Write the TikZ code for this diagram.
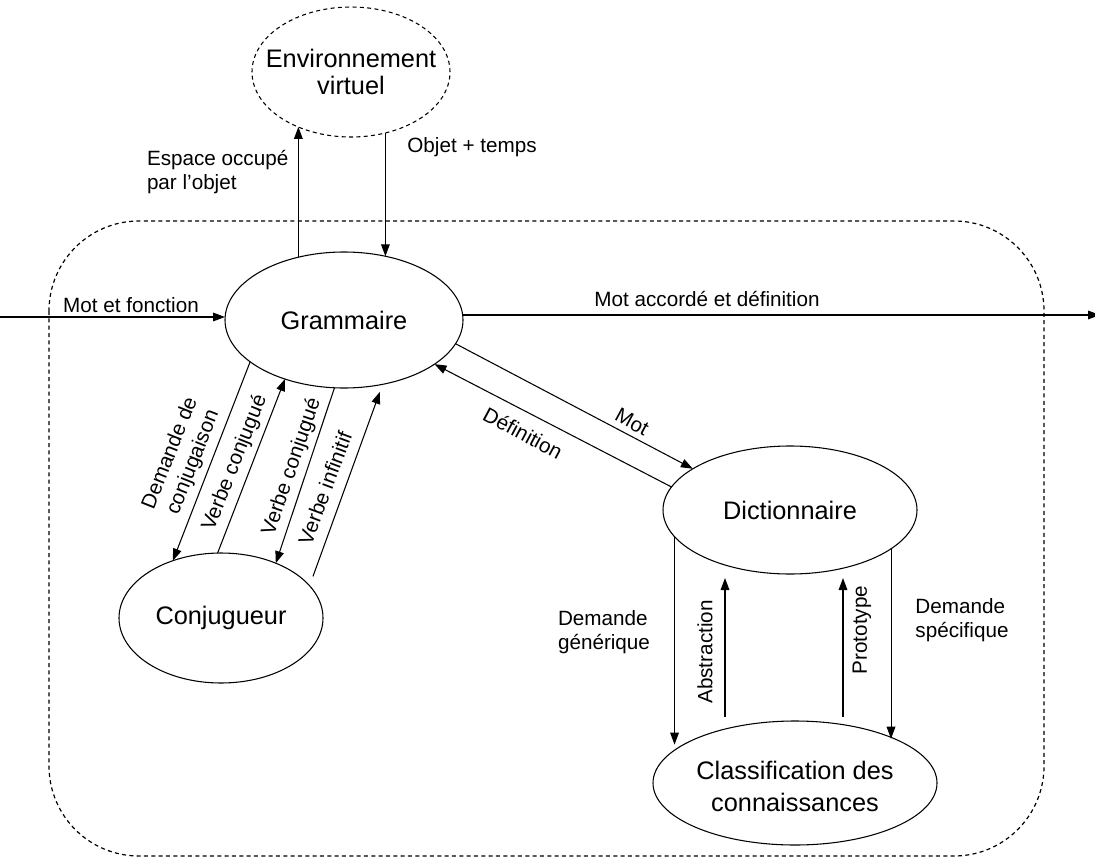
\documentclass[tikz,border=0pt]{standalone}
\usepackage{fontspec}
\setmainfont{Liberation Sans}
\usetikzlibrary{arrows.meta,shapes.geometric,calc}
\begin{document}
\begin{tikzpicture}[x=0.75pt,y=-0.75pt,
  every node/.style={inner sep=0pt, outer sep=0pt},
  blob/.style={ellipse, draw, line width=0.8pt},
  dashblob/.style={blob, dash pattern=on 3pt off 2.5pt},
  maintext/.style={font=\fontsize{19}{23}\selectfont, align=center},
  lbl/.style={font=\fontsize{15.5}{18.5}\selectfont, align=left},
  arr/.style={-{Triangle[length=9pt,width=6.5pt]}, line width=0.8pt},
  frame/.style={dash pattern=on 3pt off 2.5pt, line width=0.9pt}]
\useasboundingbox (0,0) rectangle (1095,860);

% dashed frame
\draw[frame, rounded corners=67.5pt] (49,221) rectangle (1044,856);

% nodes (shapes)
\node[dashblob, minimum width=148.5pt, minimum height=97.5pt] (env) at (351,72) {};
\node[blob, minimum width=178.5pt, minimum height=102pt] (gram) at (344,320) {};
\node[blob, minimum width=153pt, minimum height=97.5pt] (conj) at (221,618) {};
\node[blob, minimum width=190.5pt, minimum height=96pt] (dict) at (790,510) {};
\node[blob, minimum width=213pt, minimum height=93pt] (class) at (795,783) {};

% node texts
\node[maintext, font=\fontsize{19}{20.5}\selectfont] (envT) at (env) {Environnement\\virtuel};
\node[maintext] (gramT) at (gram) {Grammaire};
\node[maintext] (conjT) at (conj) {Conjugueur};
\node[maintext] (dictT) at (dict) {Dictionnaire};
\node[maintext, font=\fontsize{19}{24}\selectfont] (classT) at ($(class)+(0,3)$) {Classification des\\connaissances};

% free ends
\coordinate (inL) at (0,317);
\coordinate (outR) at (1100,315);
\coordinate (abB) at (725,717);
\coordinate (abT) at (725,578);
\coordinate (prB) at (843,717);
\coordinate (prT) at (843,578);

% connectors
\draw[arr] (inL) -- (inL -| gram.west);
\draw[arr] (outR -| gram.east) -- (outR);
\draw[arr] (gram.126.1) -- (gram.126.1 |- env.226);
\draw[arr] (gram.57.4 |- env.299.1) -- (gram.57.4);

\draw[arr] (gram.204.1) -- (conj.130.2);
\draw[arr] (conj.93.5) -- (gram.225);
\draw[arr] (gram.262.5) -- (conj.45.5);
\draw[arr, shorten <=7.5pt, shorten >=6pt] (conj.20.9) -- (gram.301.2);

\draw[arr] (gram.348.8) -- (dict.157.8);
\draw[arr] (dict.169.9) -- (gram.334.4);

\draw[arr] (dict.193.8) -- (dict.193.8 |- class.161.4);
\draw[arr] (dict.339.6) -- (dict.339.6 |- class.24.9);
\draw[arr] (abB) -- (abT);
\draw[arr] (prB) -- (prT);

% labels
\node[lbl] (lMF) at (131,305) {Mot et fonction};
\node[lbl] (lMA) at (707,299) {Mot accordé et définition};
\node[lbl, anchor=west] (lEO) at (147,172) {Espace occupé\\par l'objet};
\node[lbl] (lOT) at (472,147) {Objet + temps};

\node[lbl, align=center, rotate=68.4] (lDC) at (182,458) {Demande de\\conjugaison};
\node[lbl, rotate=68.4] (lVC1) at (235,463) {Verbe conjugué};
\node[lbl, rotate=71.1] (lVC2) at (292,467) {Verbe conjugué};
\node[lbl, rotate=69.6] (lVI) at (325,488) {Verbe infinitif};

\node[lbl, rotate=-28.5] (lMot) at (632,422) {Mot};
\node[lbl, rotate=-28.2] (lDef) at (523,433) {Définition};

\node[lbl] (lDG) at (604,632) {Demande\\générique};
\node[lbl, rotate=90] (lAb) at (705,652) {Abstraction};
\node[lbl, rotate=90] (lPr) at (862,630) {Prototype};
\node[lbl] (lDS) at (962,620) {Demande\\spécifique};
\end{tikzpicture}
\end{document}
